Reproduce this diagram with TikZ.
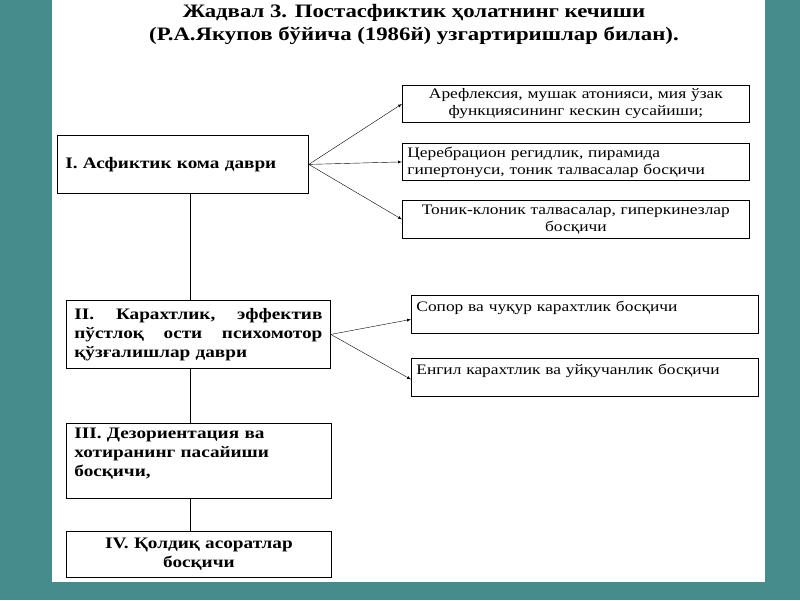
\documentclass[tikz,border=0pt]{standalone}
\usepackage{fontspec}
\setmainfont{Liberation Serif}[FakeStretch=1.2]
\usetikzlibrary{positioning}
\definecolor{bgteal}{RGB}{70,140,140}
\begin{document}
\begin{tikzpicture}[x=1pt,y=-1pt,>=latex,
	stage/.style={draw=black, thick, anchor=north west, align=left, inner sep=4pt,
		font=\fontsize{16}{19}\selectfont\bfseries},
	sub/.style={draw=black, thick, anchor=north west, align=center, inner sep=3pt,
		font=\fontsize{14.5}{17}\selectfont},
	link/.style={->, thin}]
	\fill[bgteal] (0,0) rectangle (800,600);
	\fill[white] (52,0) rectangle (765,582);
	\node[font=\fontsize{19}{23}\selectfont\bfseries, align=center] (title) at (414,24)
		{Жадвал 3. Постасфиктик ҳолатнинг кечиши\\(Р.А.Якупов бўйича (1986й) узгартиришлар билан).};
	% stages
	\node[stage, minimum width=251, minimum height=58, text width=235] (s1) at (57,135) {I. Асфиктик кома даври};
	\node[stage, minimum width=264, minimum height=68, text width=248] (s2) at (66,300)
		{II.\hfill Карахтлик,\hfill эффектив\\пўстлоқ\hfill ости\hfill психомотор\\қўзғалишлар даври};
	\node[stage, minimum width=265, minimum height=75, text width=249, anchor=north west] (s3) at (66,423)
		{III. Дезориентация ва\\хотиранинг пасайиши\\босқичи,\\[-8pt]\strut};
	\node[stage, minimum width=265, minimum height=46, text width=249, align=center] (s4) at (66,531)
		{IV. Қолдиқ асоратлар\\босқичи};
	% sub stages
	\node[sub, minimum width=347, minimum height=37, text width=337] (a1) at (402,85)
		{Арефлексия, мушак атонияси, мия ўзак\\функциясининг кескин сусайиши;};
	\node[sub, minimum width=347, minimum height=37, text width=337, align=left] (a2) at (402,143)
		{Церебрацион регидлик, пирамида\\гипертонуси, тоник талвасалар босқичи};
	\node[sub, minimum width=347, minimum height=38, text width=337] (a3) at (402,200)
		{Тоник-клоник талвасалар, гиперкинезлар\\босқичи};
	\node[sub, minimum width=347, minimum height=38, text width=337, align=left, anchor=north west] (b1) at (411,295)
		{Сопор ва чуқур карахтлик босқичи\\[-6pt]\strut};
	\node[sub, minimum width=347, minimum height=38, text width=337, align=left] (b2) at (411,358)
		{Енгил карахтлик ва уйқучанлик босқичи\\[-6pt]\strut};
	% connectors
	\draw[thin] (s1.south -| 190,0) -- (s2.north -| 190,0);
	\draw[thin] (s2.south -| 190,0) -- (s3.north -| 190,0);
	\draw[thin] (s3.south -| 190,0) -- (s4.north -| 190,0);
	\draw[link] (s1.east) -- (a1.west);
	\draw[link] (s1.east) -- (a2.west);
	\draw[link] (s1.east) -- (a3.west);
	\draw[link] (s2.east) -- ([yshift=-5]b1.west);
	\draw[link] (s2.east) -- ([yshift=-2]b2.west);
\end{tikzpicture}
\end{document}
